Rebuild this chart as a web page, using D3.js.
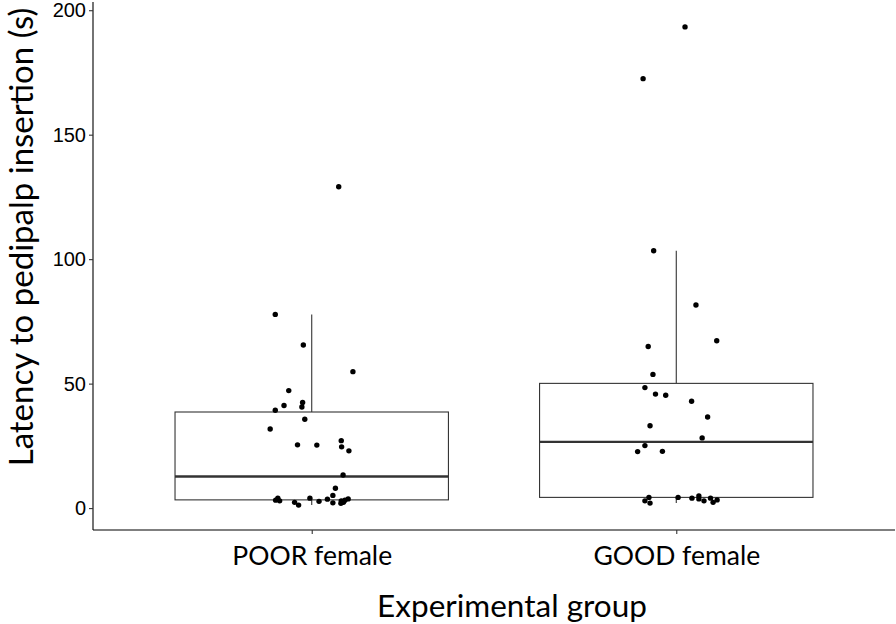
<!DOCTYPE html>
<html><head><meta charset="utf-8">
<script src="https://cdn.jsdelivr.net/npm/d3@7"></script>
<style>body{margin:0;background:#fff}svg{display:block}</style>
</head><body>
<script>
// ---- data ----
const categories = ["POOR female", "GOOD female"];
const yTicks = [0, 50, 100, 150, 200];
// box stats: [whiskerLow, q1, median, q3, whiskerHigh]
const poorBox = [1.2, 3.3, 12.7, 38.6, 77.8];
const goodBox = [2.0, 4.3, 26.6, 50.1, 103.4];
// observed latencies (s)
const poorValues = [129.1, 77.8, 65.5, 54.8, 47.2, 41.2, 42.4, 40.6, 39.3, 35.7, 31.8, 25.4, 25.3, 27.1, 24.6, 23.0, 13.3, 8.0, 5.1, 3.6, 2.7, 4.0, 4.0, 3.2, 2.9, 2.3, 1.2, 2.1, 2.9, 3.2, 3.7, 1.9, 2.3];
const poorJitter = [0.074, -0.100, -0.023, 0.113, -0.063, -0.076, -0.025, -0.027, -0.100, -0.019, -0.114, -0.039, 0.014, 0.081, 0.082, 0.102, 0.086, 0.065, 0.058, 0.043, 0.020, -0.005, -0.093, -0.099, -0.088, -0.047, -0.036, 0.058, 0.081, 0.091, 0.100, 0.080, 0.087];
const goodValues = [193.3, 172.5, 103.4, 81.6, 67.2, 64.9, 53.7, 48.4, 45.8, 45.3, 42.9, 36.6, 33.1, 28.2, 25.1, 22.7, 22.8, 4.3, 2.9, 2.0, 4.3, 4.0, 4.9, 3.7, 2.9, 4.0, 2.3, 3.3];
const goodJitter = [0.024, -0.091, -0.062, 0.054, 0.111, -0.077, -0.064, -0.086, -0.057, -0.029, 0.042, 0.086, -0.072, 0.071, -0.086, -0.106, -0.038, -0.075, -0.086, -0.072, 0.005, 0.043, 0.062, 0.062, 0.076, 0.094, 0.101, 0.112];

const groups = [
  {name: categories[0], box: poorBox, values: poorValues, jitter: poorJitter},
  {name: categories[1], box: goodBox, values: goodValues, jitter: goodJitter}
];

const W = 896, H = 624;
const panel = {left: 93, right: 895, top: 2, bottom: 530};
const svg = d3.select("body").append("svg").attr("width", W).attr("height", H);

// continuous x in category units (ggplot-style positions 1,2)
const x = d3.scaleLinear().domain([0.4, 2.6]).range([panel.left, panel.right]);
const y = d3.scaleLinear().domain([-8.8, 203.3]).range([panel.bottom, panel.top]);
const boxW = 0.75;

const g = svg.append("g");
groups.forEach((d, i) => {
  const c = i + 1;
  const [lo, q1, med, q3, hi] = d.box;
  const gg = g.append("g");
  gg.append("line").attr("x1", x(c)).attr("x2", x(c)).attr("y1", y(q3)).attr("y2", y(hi))
    .attr("stroke", "#333").attr("stroke-width", 1.1);
  gg.append("line").attr("x1", x(c)).attr("x2", x(c)).attr("y1", y(q1)).attr("y2", y(lo))
    .attr("stroke", "#333").attr("stroke-width", 1.1);
  gg.append("rect").attr("x", x(c - boxW/2)).attr("y", y(q3))
    .attr("width", x(c + boxW/2) - x(c - boxW/2)).attr("height", y(q1) - y(q3))
    .attr("fill", "#fff").attr("stroke", "#333").attr("stroke-width", 1.1);
  gg.append("line").attr("x1", x(c - boxW/2)).attr("x2", x(c + boxW/2)).attr("y1", y(med)).attr("y2", y(med))
    .attr("stroke", "#333").attr("stroke-width", 2.4);
  gg.selectAll("circle").data(d.values).join("circle")
    .attr("cx", (v, j) => x(c + d.jitter[j]))
    .attr("cy", v => y(v))
    .attr("r", 2.7).attr("fill", "#000");
});

// axes
const yAxis = d3.axisLeft(y).tickValues(yTicks).tickSize(4).tickPadding(3);
const ya = svg.append("g").attr("transform", `translate(${panel.left},0)`).call(yAxis);
ya.select(".domain").attr("d", `M0,${panel.top}V${panel.bottom}`).attr("stroke", "#000").attr("stroke-width", 1.1);
ya.selectAll(".tick line").attr("stroke", "#333").attr("stroke-width", 1.1);
ya.selectAll(".tick text").attr("font-family", "'Liberation Sans', Arial, sans-serif")
  .attr("font-size", 20).attr("fill", "#000");

const xAxis = d3.axisBottom(x).tickValues([1, 2]).tickFormat((d) => categories[d - 1]).tickSize(4).tickPadding(12);
const xa = svg.append("g").attr("transform", `translate(0,${panel.bottom})`).call(xAxis);
xa.select(".domain").attr("d", `M${panel.left},0H${panel.right}`).attr("stroke", "#000").attr("stroke-width", 1.1);
xa.selectAll(".tick line").attr("stroke", "#333").attr("stroke-width", 1.1);
xa.selectAll(".tick text").attr("font-family", "Lato, sans-serif")
  .attr("font-size", 26.5).attr("fill", "#000");

// titles
svg.append("text").attr("x", (panel.left + panel.right) / 2 + 18).attr("y", 617)
  .attr("text-anchor", "middle").attr("font-family", "Lato, sans-serif")
  .attr("font-size", 31.5).attr("fill", "#000").text("Experimental group");
svg.append("text").attr("transform", `translate(33,237) rotate(-90)`)
  .attr("text-anchor", "middle").attr("font-family", "Lato, sans-serif")
  .attr("font-size", 33).attr("fill", "#000").text("Latency to pedipalp insertion (s)");
</script>
</body></html>
